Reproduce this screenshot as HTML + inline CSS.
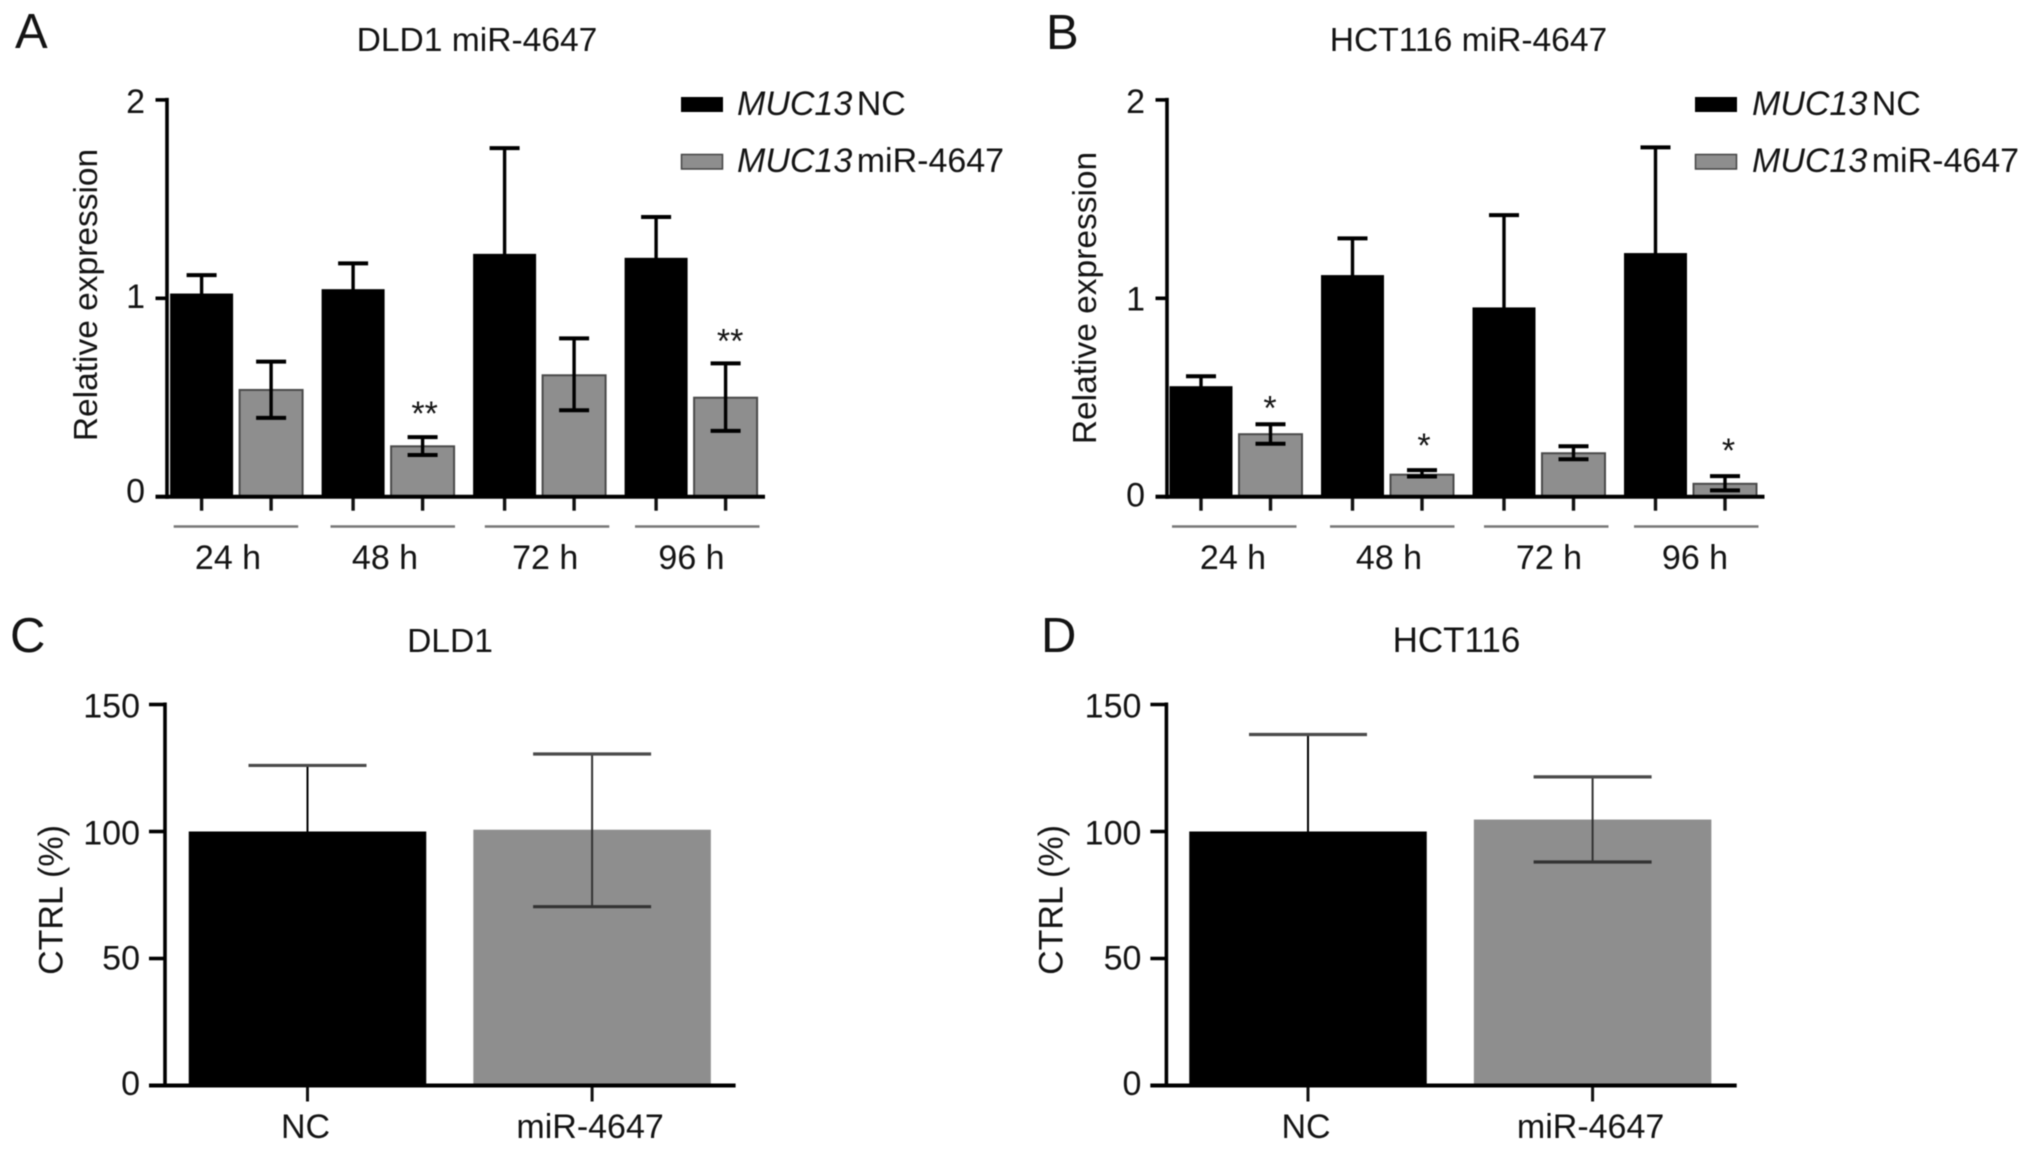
<!DOCTYPE html>
<html lang="en">
<head>
<meta charset="utf-8">
<title>MUC13 expression and miR-4647 bar charts</title>
<style>
  html, body { margin: 0; padding: 0; background: #fff; }
  svg { display: block; filter: blur(0.45px); }
  text { font-family: "Liberation Sans", sans-serif; fill: #141414; font-size: 34px; }
  .letter { font-size: 49px; }
  .title { font-size: 33.6px; }
  .legend { word-spacing: -5px; }
</style>
</head>
<body>
<svg id="figure" width="2032" height="1152" viewBox="0 0 2032 1152" xmlns="http://www.w3.org/2000/svg">
  <rect x="0" y="0" width="2032" height="1152" fill="#fff"/>

  <text class="letter" x="15" y="48">A</text>
  <text class="title" x="477" y="51" text-anchor="middle">DLD1 miR-4647</text>
  <text transform="translate(97,295) rotate(-90)" text-anchor="middle" style="font-size:33.5px">Relative expression</text>
  <rect x="681" y="97" width="42" height="15" fill="#000"/>
  <text class="legend" x="737" y="115"><tspan font-style="italic">MUC13</tspan> NC</text>
  <rect x="681.5" y="154.5" width="41" height="14.5" fill="#8e8e8e" stroke="#444" stroke-width="1.5"/>
  <text class="legend" x="737" y="172"><tspan font-style="italic">MUC13</tspan> miR-4647</text>

  <text class="letter" x="1046" y="49">B</text>
  <text class="title" x="1468.5" y="51" text-anchor="middle">HCT116 miR-4647</text>
  <text transform="translate(1096,298) rotate(-90)" text-anchor="middle" style="font-size:33.5px">Relative expression</text>
  <rect x="1695" y="97" width="42" height="15" fill="#000"/>
  <text class="legend" x="1752" y="115"><tspan font-style="italic">MUC13</tspan> NC</text>
  <rect x="1695.5" y="154.5" width="41" height="14.5" fill="#8e8e8e" stroke="#444" stroke-width="1.5"/>
  <text class="legend" x="1752" y="172"><tspan font-style="italic">MUC13</tspan> miR-4647</text>

  <text class="letter" x="10" y="652">C</text>
  <text class="title" x="450" y="652" text-anchor="middle">DLD1</text>
  <text transform="translate(62.5,900) rotate(-90)" text-anchor="middle">CTRL (%)</text>

  <text class="letter" x="1041" y="652">D</text>
  <text class="title" x="1456.5" y="652" text-anchor="middle" style="font-size:35px">HCT116</text>
  <text transform="translate(1062.5,900) rotate(-90)" text-anchor="middle">CTRL (%)</text>

  <g id="marks"></g>
</svg>

<script>
// ---------- chart data ----------
const timeCategories = ["24 h", "48 h", "72 h", "96 h"];
const yTicksExpression = [0, 1, 2];
const yTicksCtrl = [0, 50, 100, 150];
const ctrlCategories = ["NC", "miR-4647"];

const panelA_nc = [1.024, 1.046, 1.224, 1.204];
const panelA_ncUpper = [1.117, 1.176, 1.757, 1.41];
const panelA_ncLower = [0.93, 0.916, 0.691, 0.998];
const panelA_mir = [0.538, 0.254, 0.612, 0.499];
const panelA_mirUpper = [0.681, 0.30, 0.798, 0.672];
const panelA_mirLower = [0.397, 0.21, 0.436, 0.332];
const panelA_stars = ["", "**", "", "**"];

const panelB_nc = [0.557, 1.117, 0.954, 1.228];
const panelB_ncUpper = [0.607, 1.302, 1.419, 1.761];
const panelB_ncLower = [0.507, 0.932, 0.489, 0.695];
const panelB_mir = [0.315, 0.111, 0.219, 0.065];
const panelB_mirUpper = [0.365, 0.134, 0.254, 0.104];
const panelB_mirLower = [0.267, 0.102, 0.189, 0.032];
const panelB_stars = ["*", "*", "", "*"];

const panelC_values = [100, 100.7];
const panelC_upper = [126, 130.5];
const panelC_lower = [74, 70.4];

const panelD_values = [100, 104.7];
const panelD_upper = [138.2, 121.5];
const panelD_lower = [61.8, 88];

// ---------- helpers ----------
const NS = "http://www.w3.org/2000/svg";
const root = document.getElementById("marks");
const SERIES_FILL = ["#000000", "#8e8e8e"];

function make(tag, props, text) {
  const node = document.createElementNS(NS, tag);
  for (const k in props) node.setAttribute(k, props[k]);
  if (text !== undefined) node.textContent = text;
  root.appendChild(node);
  return node;
}
function line(name, x1, y1, x2, y2, color, width) {
  const n = make("line", { x1: x1, y1: y1, x2: x2, y2: y2, stroke: color, "stroke-width": width });
  
  
  return n;
}
function label(name, x, y, anchor, str) {
  const n = make("text", { x: x, y: y, "text-anchor": anchor }, str);
  
  
  return n;
}
function bar(name, x, y, w, h, fill, stroke) {
  const n = make("rect", { x: x, y: y, width: w, height: h, fill: fill });
  if (stroke) { n.setAttribute("stroke", stroke); n.setAttribute("stroke-width", 2); }
  
  
  return n;
}
function errorBar(name, x, yHi, yLo, capW, color, upperCap, stemW, capH) {
  line(name + "-stem", x, yHi, x, yLo, color, stemW);
  line(name + "-cap-upper", x - capW / 2, yHi, x + capW / 2, yHi, upperCap, capH);
  line(name + "-cap-lower", x - capW / 2, yLo, x + capW / 2, yLo, color, capH);
}

// ---------- grouped panels (A, B) ----------
function drawGrouped(p) {
  const yScale = v => p.y0 - v * p.unit;
  const xScale = (group, series) => p.firstCenter + group * 151.5 + series * 69.5;
  const barW = 63;

  timeCategories.forEach((cat, g) => {
    [[p.nc, p.ncHi, p.ncLo], [p.mir, p.mirHi, p.mirLo]].forEach((s, si) => {
      const cx = xScale(g, si);
      const nm = p.id + "-bar-" + (si ? "mir" : "nc") + "-" + cat.replace(" ", "");
      bar(nm, cx - barW / 2, yScale(s[0][g]), barW, p.y0 - yScale(s[0][g]), SERIES_FILL[si], si ? "#4a4a4a" : null);
      errorBar(nm + "-error", cx, yScale(s[1][g]), yScale(s[2][g]), 30, "#000", "#000", 3.4, 4);
      line(nm + "-tick", cx, p.y0, cx, p.y0 + 14, "#111", 3.4);
    });
    if (p.stars[g]) {
      label(p.id + "-significance-" + cat.replace(" ", ""), xScale(g, 1) + p.starDx[g], yScale(p.mirHi[g]) - p.starGap[g] + 15, "middle", p.stars[g]);
    }
    const span = p.spans[g];
    line(p.id + "-group-line-" + cat.replace(" ", ""), span, 526.5, span + 124.5, 526.5, "#777", 2.4);
    label(p.id + "-x-label-" + cat.replace(" ", ""), p.labelX[g], 569, "middle", cat);
  });

  line(p.id + "-y-axis", p.axisX, p.y0 + 2, p.axisX, yScale(2) - 2, "#000", 3.6);
  line(p.id + "-x-axis", p.axisX - 11.5, p.y0, p.axisEnd, p.y0, "#000", 4);
  yTicksExpression.forEach((t, i) => {
    line(p.id + "-y-tick-" + t, p.axisX - 11.5, yScale(t), p.axisX, yScale(t), "#000", 3.6);
    label(p.id + "-y-label-" + t, p.axisX - 22, yScale(t) + p.tickDy[i], "end", String(t));
  });
}

drawGrouped({
  id: "panel-a", y0: 496.7, unit: 198.4, firstCenter: 201.6, axisX: 167, axisEnd: 765,
  nc: panelA_nc, ncHi: panelA_ncUpper, ncLo: panelA_ncLower,
  mir: panelA_mir, mirHi: panelA_mirUpper, mirLo: panelA_mirLower,
  stars: panelA_stars, starGap: [0, 27, 0, 26], starDx: [0, 2, 0, 4.5],
  spans: [173.7, 330.5, 484.8, 635], labelX: [228, 385, 545.2, 691.5], tickDy: [6, 9.5, 13]
});
drawGrouped({
  id: "panel-b", y0: 496.7, unit: 198.4, firstCenter: 1201, axisX: 1167, axisEnd: 1764.5,
  nc: panelB_nc, ncHi: panelB_ncUpper, ncLo: panelB_ncLower,
  mir: panelB_mir, mirHi: panelB_mirUpper, mirLo: panelB_mirLower,
  stars: panelB_stars, starGap: [20, 28, 0, 29], starDx: [-0.5, 2, 0, 3.5],
  spans: [1172, 1330, 1484, 1634], labelX: [1233, 1389, 1549, 1695], tickDy: [10, 12, 13]
});

// ---------- simple panels (C, D) ----------
function drawSimple(p) {
  const yScale = v => p.y0 - v * 2.54;
  const xScale = i => p.firstCenter + i * 284.6;
  const barW = 237.5;

  ctrlCategories.forEach((cat, i) => {
    const cx = xScale(i);
    const nm = p.id + "-bar-" + (i ? "mir" : "nc");
    bar(nm, cx - barW / 2, yScale(p.values[i]), barW, p.y0 - yScale(p.values[i]), SERIES_FILL[i], null);
    errorBar(nm + "-error", cx, yScale(p.upper[i]), yScale(p.lower[i]), 118, i ? "#333" : "#000", "#4a4a4a", 2, 3.2);
    line(nm + "-tick", cx, p.y0, cx, p.y0 + 16, "#111", 3);
    label(p.id + "-x-label-" + (i ? "mir" : "nc"), cx - 2, 1138, "middle", cat);
  });

  line(p.id + "-y-axis", p.axisX, p.y0 + 2, p.axisX, yScale(150) - 2, "#000", 3.6);
  line(p.id + "-x-axis", p.axisX - 16, p.y0, p.axisEnd, p.y0, "#000", 4);
  yTicksCtrl.forEach((t, i) => {
    line(p.id + "-y-tick-" + t, p.axisX - 16, yScale(t), p.axisX, yScale(t), "#000", 3.6);
    label(p.id + "-y-label-" + t, p.axisX - 25, yScale(t) + p.tickDy[i], "end", String(t));
  });
}

drawSimple({
  id: "panel-c", y0: 1085.5, firstCenter: 307.5, axisX: 165, axisEnd: 735.6,
  values: panelC_values, upper: panelC_upper, lower: panelC_lower, tickDy: [9.5, 11, 13, 13]
});
drawSimple({
  id: "panel-d", y0: 1085.5, firstCenter: 1308, axisX: 1166.4, axisEnd: 1736.7,
  values: panelD_values, upper: panelD_upper, lower: panelD_lower, tickDy: [9.5, 11, 13, 13]
});
</script>
</body>
</html>
